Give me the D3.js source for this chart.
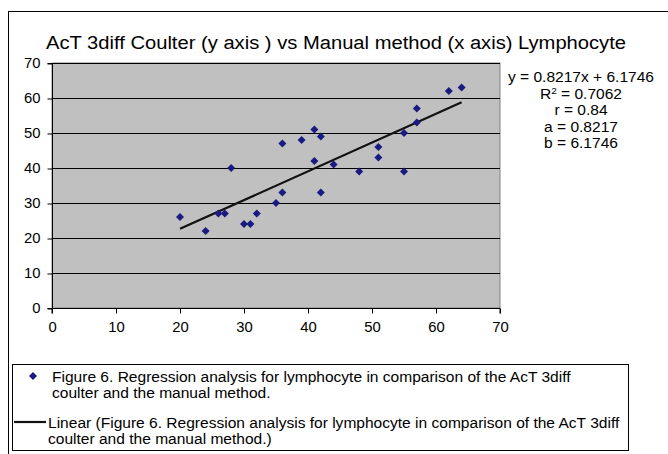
<!DOCTYPE html>
<html>
<head>
<meta charset="utf-8">
<script src="https://cdn.jsdelivr.net/npm/d3@7"></script>
<style>
  body { margin: 0; background: #fff; }
  svg text { font-family: "Liberation Sans", Arial, sans-serif; fill: #000; }
</style>
</head>
<body>
<div id="chart"></div>
<script>
// manual method (x) vs AcT 3diff coulter (y), lymphocyte %
var manualX = [20, 24, 26, 27, 28, 30, 31, 32, 35, 36, 36, 39, 41, 41, 42, 42, 44, 48, 51, 51, 55, 55, 57, 57, 62, 64];
var coulterY = [26, 22, 27, 27, 40, 24, 24, 27, 30, 33, 47, 48, 51, 42, 49, 33, 41, 39, 46, 43, 50, 39, 57, 53, 62, 63];
var slope = 0.8217, intercept = 6.1746;
var statLines = ["y = 0.8217x + 6.1746", "R2 = 0.7062", "r = 0.84", "a = 0.8217", "b = 6.1746"];
var ticks = [0, 10, 20, 30, 40, 50, 60, 70];
var legendLines = [
  ["Figure 6. Regression analysis for lymphocyte in comparison of the AcT 3diff", "coulter and the manual method."],
  ["Linear (Figure 6. Regression analysis for lymphocyte in comparison of the AcT 3diff", "coulter and the manual method.)"]
];

var w = 668, h = 454;
var svg = d3.select("#chart").append("svg").attr("width", w).attr("height", h);

// the source image has its text a bit wider than Arial, stretch it a little
function stretch(sel, k) {
  sel.each(function() {
    var len = this.getComputedTextLength();
    d3.select(this).attr("textLength", len * k).attr("lengthAdjust", "spacingAndGlyphs");
  });
}

// outer chart frame (cut off on the right and bottom)
svg.append("rect").attr("x", 8.5).attr("y", 11.5).attr("width", 700).attr("height", 500)
  .attr("fill", "#fff").attr("stroke", "#000").attr("stroke-width", 1);

var x = d3.scaleLinear().domain([0, 70]).range([52, 500]);
var y = d3.scaleLinear().domain([0, 70]).range([308, 63]);

// plot area
svg.append("rect").attr("x", x(0)).attr("y", y(70)).attr("width", x(70) - x(0)).attr("height", y(0) - y(70))
  .attr("fill", "#c0c0c0").attr("stroke", "#808080");

// gridlines
svg.selectAll("line.grid").data(ticks.slice(1)).enter().append("line")
  .attr("x1", x(0)).attr("x2", x(70))
  .attr("y1", function(d) { return y(d) + 0.5; }).attr("y2", function(d) { return y(d) + 0.5; })
  .attr("stroke", "#000").attr("stroke-width", 1);

// axes
var yAxis = svg.append("g").attr("transform", "translate(" + (x(0) + 0.5) + ",0.5)")
  .call(d3.axisLeft(y).tickValues(ticks).tickSize(5).tickPadding(7).tickFormat(d3.format("d")));
var xAxis = svg.append("g").attr("transform", "translate(0," + (y(0) + 0.5) + ")")
  .call(d3.axisBottom(x).tickValues(ticks).tickSize(5).tickPadding(9).tickFormat(d3.format("d")));
[xAxis, yAxis].forEach(function(a) {
  a.select(".domain").attr("stroke", "#000");
  a.selectAll(".tick line").attr("stroke", "#000");
  a.selectAll("text").style("font-size", "14px").attr("fill", "#000").call(stretch, 1.06);
});
xAxis.select(".domain").attr("d", "M" + x(0) + ",5V0H" + x(70) + "V5");
yAxis.select(".domain").attr("d", "M-5," + y(70) + "H0V" + y(0) + "H-5");

// trendline
var xr = d3.extent(manualX);
svg.append("line")
  .attr("x1", x(xr[0])).attr("y1", y(slope * xr[0] + intercept))
  .attr("x2", x(xr[1])).attr("y2", y(slope * xr[1] + intercept))
  .attr("stroke", "#111").attr("stroke-width", 2.2);

// points
var diamond = d3.symbol().type(d3.symbolSquare).size(32);
svg.selectAll("path.pt").data(manualX).enter().append("path")
  .attr("class", "pt")
  .attr("d", diamond)
  .attr("transform", function(d, i) { return "translate(" + x(d) + "," + y(coulterY[i]) + ") rotate(45)"; })
  .attr("fill", "#1a1a80");

// title
svg.append("text").attr("x", 336).attr("y", 49).attr("text-anchor", "middle")
  .style("font-size", "18px").text("AcT 3diff Coulter (y axis ) vs Manual method (x axis) Lymphocyte")
  .call(stretch, 1.12);

// stats text
var st = svg.append("g");
statLines.forEach(function(s, i) {
  var t = st.append("text").attr("x", 581).attr("y", 82 + i * 16.5).attr("text-anchor", "middle")
    .style("font-size", "14px");
  if (s.indexOf("R2") === 0) {
    t.append("tspan").text("R");
    t.append("tspan").attr("dy", -5).style("font-size", "9px").text("2");
    t.append("tspan").attr("dy", 5).text(" = 0.7062");
  } else {
    t.text(s);
  }
  t.call(stretch, 1.11);
});

// legend
var lg = svg.append("g");
lg.append("rect").attr("x", 12.5).attr("y", 364.5).attr("width", 616).attr("height", 86)
  .attr("fill", "#fff").attr("stroke", "#000");
lg.append("path").attr("d", diamond).attr("transform", "translate(33,376) rotate(45)").attr("fill", "#1a1a80");
lg.append("line").attr("x1", 14).attr("x2", 46).attr("y1", 422).attr("y2", 422)
  .attr("stroke", "#111").attr("stroke-width", 2.2);
legendLines.forEach(function(lines, k) {
  lines.forEach(function(s, j) {
    lg.append("text").attr("x", k === 0 ? 52 : 48).attr("y", (k === 0 ? 382 : 428) + j * 16)
      .style("font-size", "14px").text(s).call(stretch, 1.11);
  });
});
</script>
</body>
</html>
